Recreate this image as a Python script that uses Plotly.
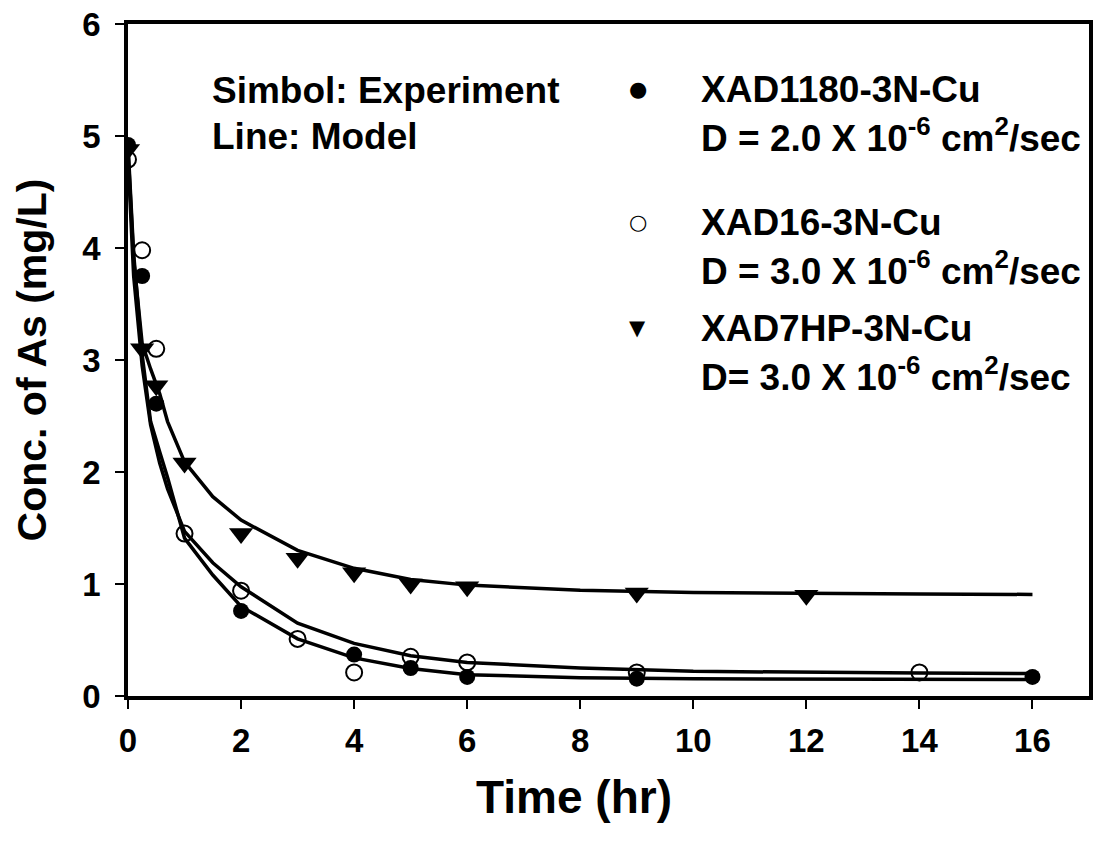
import plotly.graph_objects as go

# Experimental data (time in hr, concentration of As in mg/L)
t_1180 = [0, 0.25, 0.5, 2, 4, 5, 6, 9, 16]
c_1180 = [4.92, 3.75, 2.61, 0.76, 0.37, 0.25, 0.17, 0.155, 0.17]

t_16 = [0, 0.25, 0.5, 1, 2, 3, 4, 5, 6, 9, 14]
c_16 = [4.79, 3.98, 3.10, 1.45, 0.94, 0.51, 0.21, 0.35, 0.30, 0.21, 0.21]

t_7hp = [0, 0.25, 0.5, 1, 2, 3, 4, 5, 6, 9, 12]
c_7hp = [4.88, 3.10, 2.77, 2.08, 1.45, 1.23, 1.10, 1.00, 0.975, 0.92, 0.90]

# Model curves
t_model = [0, 0.1, 0.25, 0.4, 0.56, 0.7, 1, 1.5, 2, 3, 4, 5, 6, 8, 10, 12, 14, 16]
m_1180 = [4.92, 3.95, 3.05, 2.45, 2.18, 1.95, 1.41, 1.08, 0.80, 0.51, 0.34, 0.245, 0.19, 0.163, 0.153, 0.15, 0.148, 0.148]
m_16 = [4.80, 3.75, 2.95, 2.42, 2.08, 1.85, 1.47, 1.19, 0.975, 0.65, 0.47, 0.36, 0.30, 0.25, 0.22, 0.21, 0.205, 0.20]
m_7hp = [4.88, 3.90, 3.15, 2.92, 2.70, 2.45, 2.09, 1.78, 1.57, 1.30, 1.14, 1.04, 0.99, 0.945, 0.925, 0.915, 0.91, 0.907]

x_ticks = [0, 2, 4, 6, 8, 10, 12, 14, 16]
y_ticks = [0, 1, 2, 3, 4, 5, 6]

FONT = "Liberation Sans"
LINE_W = 3.5

fig = go.Figure()

for t, m in [(t_model, m_1180), (t_model, m_16), (t_model, m_7hp)]:
    fig.add_trace(go.Scatter(x=t, y=m, mode="lines",
                             line=dict(color="black", width=LINE_W),
                             showlegend=False, hoverinfo="skip"))

fig.add_trace(go.Scatter(x=t_16, y=c_16, mode="markers",
                         marker=dict(symbol="circle-open", size=16, color="black",
                                     line=dict(width=2, color="black")),
                         showlegend=False))
fig.add_trace(go.Scatter(x=t_7hp, y=c_7hp, mode="markers",
                         marker=dict(symbol="triangle-down", size=21, color="black",
                                     line=dict(width=0)),
                         showlegend=False))
fig.add_trace(go.Scatter(x=t_1180, y=c_1180, mode="markers",
                         marker=dict(symbol="circle", size=16, color="black",
                                     line=dict(width=0)),
                         showlegend=False))

axis_common = dict(
    showline=True, linecolor="black", linewidth=LINE_W, mirror=True,
    ticks="outside", ticklen=9, tickwidth=1.5, tickcolor="black",
    showgrid=False, zeroline=False,
    tickfont=dict(family=FONT, size=33, color="black", weight="bold"),
)

fig.update_xaxes(range=[0, 17], tickvals=x_ticks, ticktext=[str(v) for v in x_ticks],
                 ticklabelstandoff=4, **axis_common)
fig.update_yaxes(range=[0, 6], tickvals=y_ticks, ticktext=[str(v) for v in y_ticks],
                 title=dict(text="Conc. of As (mg/L)",
                            font=dict(family=FONT, size=41, color="black", weight="bold"),
                            standoff=24),
                 ticklabelstandoff=8, **axis_common)

fig.update_layout(
    width=1095, height=842,
    margin=dict(l=128, r=2, t=24, b=146),
    paper_bgcolor="white", plot_bgcolor="white",
    font=dict(family=FONT, color="black"),
    showlegend=False,
)

def px_to_paper(px, py):
    return (px - 128) / 965.0, (696 - py) / 672.5

# x-axis title
tx, ty = px_to_paper(576, 797)
fig.add_annotation(x=tx, y=ty, xref="paper", yref="paper", text="Time (hr)", showarrow=False,
                   xanchor="center", yanchor="middle",
                   font=dict(family=FONT, size=46, color="black", weight="bold"))

notes = [
    (210, 90, "Simbol: Experiment"),
    (210, 136, "Line: Model"),
    (701, 89, "XAD1180-3N-Cu"),
    (701, 135, "D = 2.0 X 10<sup>-6</sup> cm<sup>2</sup>/sec"),
    (701, 222, "XAD16-3N-Cu"),
    (701, 268, "D = 3.0 X 10<sup>-6</sup> cm<sup>2</sup>/sec"),
    (701, 328, "XAD7HP-3N-Cu"),
    (701, 374, "D= 3.0 X 10<sup>-6</sup> cm<sup>2</sup>/sec"),
]
for px, py, txt in notes:
    x, y = px_to_paper(px, py)
    fig.add_annotation(x=x, y=y, xref="paper", yref="paper", text=txt, showarrow=False,
                       xanchor="left", yanchor="middle",
                       font=dict(family=FONT, size=37, color="black", weight="bold"))

symbols = [(640, 89, "●"), (640, 222, "○"), (640, 328, "▼")]
for px, py, s in symbols:
    x, y = px_to_paper(px, py)
    fig.add_annotation(x=x, y=y, xref="paper", yref="paper", text=s, showarrow=False,
                       xanchor="center", yanchor="middle",
                       font=dict(family="DejaVu Sans", size=21, color="black"))

fig.write_html("out.html")
